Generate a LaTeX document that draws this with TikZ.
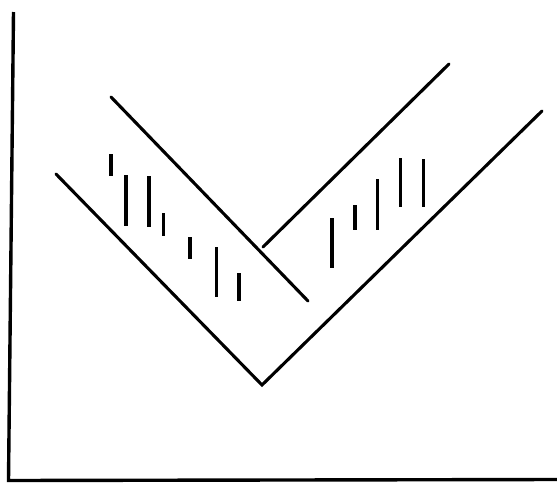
\documentclass[tikz,border=0pt]{standalone}
\begin{document}
\begin{tikzpicture}[x=1pt,y=-1pt,
  ln/.style={line width=3.1pt,line cap=round,line join=miter},
  ax/.style={line width=3.4pt},
  hatch/.style={line width=3.2pt}]
\useasboundingbox (0,0) rectangle (557,488);
% axes
\coordinate (axtop) at (13.5,12);
\coordinate (origin) at (8.5,480.5);
\coordinate (axright) at (557,479.5);
\draw[ax] (axtop) -- (origin) -- (axright);
% lower V
\coordinate (vl) at (56,174);
\coordinate (vv) at (262,385);
\coordinate (vr) at (542,111);
\draw[ln] (vl) -- (vv) -- (vr);
% upper left line
\coordinate (ula) at (111,97);
\coordinate (ulb) at (308,301);
\draw[ln] (ula) -- (ulb);
% upper right line
\coordinate (ura) at (263,247);
\coordinate (urb) at (449,64);
\draw[ln] (ura) -- (urb);
% left hatches
\foreach \x/\a/\b in {111/154/176, 126/175/226, 149/176/227, 163.7/213/236, 190/237/259, 216.5/247/297, 239/273/301}
  \draw[hatch] (\x,\a) -- (\x,\b);
% right hatches
\foreach \x/\a/\b in {332/218/268, 355/205/230, 377.7/179/230, 400.7/158/207, 423.3/159/207}
  \draw[hatch] (\x,\a) -- (\x,\b);
\end{tikzpicture}
\end{document}
